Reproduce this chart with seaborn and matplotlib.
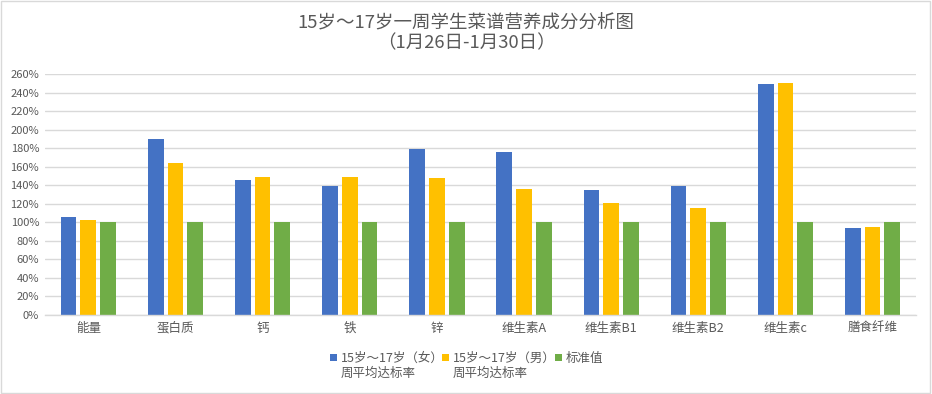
import matplotlib
matplotlib.use("Agg")
import matplotlib.pyplot as plt
import seaborn as sns
import pandas as pd
from matplotlib.ticker import PercentFormatter, MultipleLocator
from matplotlib.patches import Rectangle

categories = ["能量", "蛋白质", "钙", "铁", "锌", "维生素A", "维生素B1", "维生素B2", "维生素c", "膳食纤维"]
female = [1.06, 1.90, 1.46, 1.39, 1.79, 1.76, 1.35, 1.39, 2.49, 0.935]
male = [1.02, 1.64, 1.485, 1.49, 1.48, 1.36, 1.21, 1.16, 2.50, 0.945]
standard = [1.0] * 10
series_names = ["15岁～17岁（女）\n周平均达标率", "15岁～17岁（男）\n周平均达标率", "标准值"]
colors = ["#4472C4", "#FFC000", "#70AD47"]
title = "15岁～17岁一周学生菜谱营养成分分析图\n（1月26日-1月30日）"

sns.set_theme(style="white")
plt.rcParams['font.family'] = ['Noto Sans CJK SC', 'DejaVu Sans']

rows = []
for name, vals in zip(series_names, [female, male, standard]):
    for c, v in zip(categories, vals):
        rows.append({"cat": c, "series": name, "value": v})
df = pd.DataFrame(rows)

W, H = 932, 394
fig = plt.figure(figsize=(W / 100, H / 100), dpi=100)
ax = fig.add_axes([0.048, 0.2005, 0.935, 0.6115])
sns.barplot(data=df, x="cat", y="value", hue="series", order=categories,
            hue_order=series_names, palette=colors, width=0.68, gap=0.2,
            saturation=1, linewidth=0, ax=ax, legend=False)

ax.set_ylim(0, 2.6)
ax.set_xlim(-0.5, len(categories) - 0.5)
ax.yaxis.set_major_locator(MultipleLocator(0.2))
ax.yaxis.set_major_formatter(PercentFormatter(1.0, decimals=0))
ax.grid(axis="y", color="#D9D9D9", linewidth=1)
ax.set_axisbelow(True)
for s in ["top", "right", "left"]:
    ax.spines[s].set_visible(False)
ax.spines["bottom"].set_color("#D9D9D9")
ax.spines["bottom"].set_linewidth(1)
ax.set_xlabel("")
ax.set_ylabel("")
ax.tick_params(axis="y", labelsize=8, labelcolor="#595959", length=0, pad=4)
ax.tick_params(axis="x", labelsize=9, labelcolor="#595959", length=0, pad=5)

# legend: square marker aligned with the first line of each label
legend_x = [330, 442, 555]
for xpx, name, col in zip(legend_x, series_names, colors):
    fig.patches.append(Rectangle((xpx / W, 1 - 361 / H), 7 / W, 7 / H,
                                 transform=fig.transFigure, facecolor=col,
                                 edgecolor="none"))
    for i, line in enumerate(name.split("\n")):
        fig.text((xpx + 11) / W, 1 - (358 + 15 * i) / H, line, ha="left",
                 va="center", fontsize=9, color="#595959")

for i, line in enumerate(title.split("\n")):
    fig.text(0.5, 1 - (22 + 21 * i) / H, line, ha="center", va="center",
             fontsize=13.3, color="#595959")

fig.patches.append(Rectangle((0.001, 0.002), 0.997, 0.995, transform=fig.transFigure,
                             fill=False, edgecolor="#D9D9D9", linewidth=1))

fig.savefig("out.png", dpi=100)
